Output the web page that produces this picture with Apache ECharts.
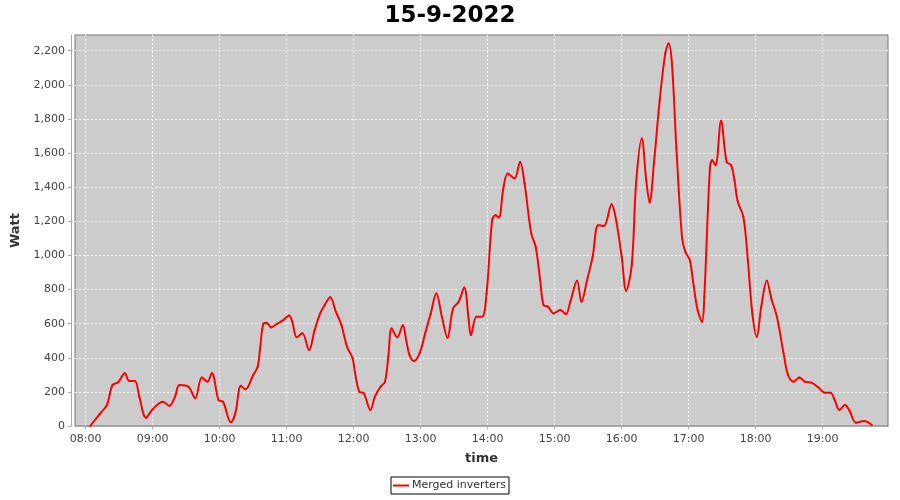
<!DOCTYPE html>
<html>
<head>
<meta charset="utf-8">
<script src="https://cdn.jsdelivr.net/npm/echarts@6/dist/echarts.min.js"></script>
<style>html,body{margin:0;padding:0;background:#fff;}#c{width:900px;height:500px;}</style>
</head>
<body>
<div id="c"></div>
<script>
const titleText = '15-9-2022';
const seriesName = 'Merged inverters';
const times = ['08:04','08:13','08:19','08:24','08:29','08:35','08:39','08:44','08:48','08:54',
'09:00','09:09','09:15','09:20','09:24','09:32','09:38','09:44','09:49','09:53','09:59',
'10:03','10:10','10:14','10:19','10:23','10:30','10:34','10:36','10:39','10:42','10:46','10:51','10:57',
'11:02','11:05','11:09','11:14','11:20','11:25','11:30','11:34','11:39','11:44','11:49','11:54','11:59',
'12:01','12:05','12:09','12:15','12:19','12:24','12:28','12:31','12:34','12:39','12:44','12:47','12:50','12:54','12:59',
'13:04','13:09','13:14','13:19','13:24','13:29','13:34','13:39','13:43','13:45','13:50','13:55','13:59',
'14:04','14:07','14:10','14:14','14:18','14:24','14:29','14:33','14:39','14:43','14:47','14:50','14:54','14:59',
'15:05','15:10','15:14','15:20','15:24','15:29','15:34','15:39','15:44','15:51','15:55',
'16:00','16:04','16:09','16:13','16:18','16:22','16:25','16:29','16:34','16:39','16:42','16:45','16:49','16:54','16:57',
'17:01','17:04','17:08','17:12','17:14','17:19','17:21','17:24','17:29','17:34','17:38','17:41','17:44','17:49','17:53','17:57',
'18:01','18:05','18:10','18:14','18:19','18:25','18:29','18:34','18:39','18:44','18:50','18:56',
'19:02','19:07','19:11','19:15','19:20','19:24','19:30','19:37','19:44'];
const watts = [0,74,123,240,256,309,264,264,172,49,
98,142,119,172,240,230,162,285,260,309,152,
142,22,74,236,215,299,347,445,598,605,578,598,621,
648,611,520,543,445,562,660,709,754,670,592,465,397,
318,201,192,94,172,230,260,406,572,520,590,504,416,381,426,
543,660,777,640,517,689,728,812,621,533,640,640,777,
1207,1236,1222,1392,1480,1451,1548,1422,1129,1050,855,709,699,660,
680,656,728,851,728,855,992,1177,1172,1300,1207,
992,793,943,1431,1685,1441,1310,1548,1906,2183,2242,2125,1627,1109,1021,
972,845,680,611,757,1510,1558,1529,1789,1548,1529,1441,1314,1226,972,660,
523,699,851,748,640,426,299,260,285,260,254,227,
195,195,148,94,123,90,19,29,6];
const xTicks = ['08:00','09:00','10:00','11:00','12:00','13:00','14:00','15:00','16:00','17:00','18:00','19:00'];
const yTicks = [0,200,400,600,800,1000,1200,1400,1600,1800,2000,2200];

const toMin = s => { const p = s.split(':'); return (+p[0]) * 60 + (+p[1]); };
const pad = n => (n < 10 ? '0' : '') + n;
const fmtMin = v => pad(Math.floor(v / 60)) + ':' + pad(Math.round(v % 60));
const data = times.map((t, i) => [toMin(t), watts[i]]);

const chart = echarts.init(document.getElementById('c'), null, {renderer: 'canvas'});
chart.setOption({
  animation: false,
  backgroundColor: '#ffffff',
  title: {
    text: titleText,
    left: 'center',
    top: 0,
    textStyle: {fontFamily: 'DejaVu Sans', fontWeight: 'bold', fontSize: 23, color: '#000'}
  },
  legend: {
    data: [seriesName],
    left: 391,
    top: 477,
    padding: [3, 3, 3, 2],
    itemWidth: 16,
    itemHeight: 2,
    icon: 'rect',
    itemGap: 4,
    borderColor: '#000',
    borderWidth: 1,
    borderRadius: 0,
    textStyle: {fontFamily: 'DejaVu Sans', fontSize: 11, color: '#333', padding: [0, 0, 0, -2]}
  },
  grid: {
    left: 75, right: 12, top: 35, bottom: 74,
    show: true,
    backgroundColor: '#cccccc',
    borderColor: '#777777',
    borderWidth: 1,
    containLabel: false,
    outerBoundsMode: 'none'
  },
  xAxis: {
    type: 'value',
    min: 470.4,
    max: 1198.5,
    offset: 3,
    name: 'time',
    nameLocation: 'middle',
    nameGap: 23,
    nameTextStyle: {fontFamily: 'DejaVu Sans', fontWeight: 'bold', fontSize: 13, color: '#333'},
    axisLine: {show: true, lineStyle: {color: '#a8a8a8', width: 1}},
    axisTick: {show: true, length: 3, lineStyle: {color: '#a8a8a8'}, customValues: xTicks.map(toMin)},
    axisLabel: {
      customValues: xTicks.map(toMin),
      formatter: v => fmtMin(v),
      margin: 5,
      fontFamily: 'DejaVu Sans', fontSize: 11, color: '#444'
    },
    splitLine: {show: true, lineStyle: {color: '#ffffff', type: [2, 2], width: 1}}
  },
  yAxis: {
    type: 'value',
    min: 0,
    max: 2292,
    offset: 4,
    name: 'Watt',
    nameLocation: 'middle',
    nameGap: 44,
    nameTextStyle: {fontFamily: 'DejaVu Sans', fontWeight: 'bold', fontSize: 13, color: '#333'},
    axisLine: {show: true, lineStyle: {color: '#a8a8a8', width: 1}},
    axisTick: {show: true, length: 3, lineStyle: {color: '#a8a8a8'}, customValues: yTicks},
    axisLabel: {
      customValues: yTicks,
      formatter: v => v.toLocaleString('en-US'),
      margin: 6,
      fontFamily: 'DejaVu Sans', fontSize: 11, color: '#444'
    },
    splitLine: {show: true, lineStyle: {color: '#ffffff', type: [2, 2], width: 1}}
  },
  series: [{
    name: seriesName,
    type: 'line',
    data: data,
    smooth: 0.35,
    symbol: 'circle',
    symbolSize: 2,
    showSymbol: true,
    itemStyle: {color: '#ff0000'},
    lineStyle: {color: '#ff0000', width: 2}
  }]
});
</script>
</body>
</html>
